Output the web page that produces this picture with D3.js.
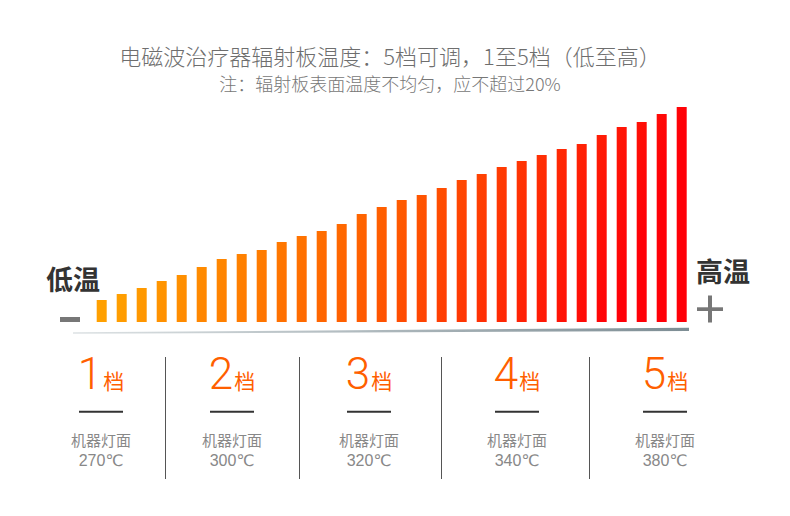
<!DOCTYPE html>
<html>
<head>
<meta charset="utf-8">
<script src="https://cdn.jsdelivr.net/npm/d3@7"></script>
<style>
  body { margin: 0; background: #fff; }
  svg { display: block; }
</style>
</head>
<body>
<svg id="chart" width="790" height="516"></svg>
<script>
// bar heights, low -> high temperature (30 bars)
const barValues = [22, 28, 34, 41, 47, 55, 63, 68, 72, 80, 86, 91, 98, 108, 115,
                   122, 127, 134, 142, 148, 155, 161, 167, 173, 178, 187, 195, 200, 208, 215];
const levels = ["1", "2", "3", "4", "5"];
const levelUnit = "档";
const levelCaption = "机器灯面";
const levelTemps = ["270℃", "300℃", "320℃", "340℃", "380℃"];
const titleText = "电磁波治疗器辐射板温度：5档可调，1至5档（低至高）";
const noteText = "注：辐射板表面温度不均匀，应不超过20%";

const CJK = "'Noto Sans CJK SC', 'Noto Sans', sans-serif";
const svg = d3.select("#chart");

// gradients
const defs = svg.append("defs");
const barGrad = defs.append("linearGradient")
    .attr("id", "barGrad")
    .attr("gradientUnits", "userSpaceOnUse")
    .attr("x1", 150).attr("y1", 200)
    .attr("x2", 600).attr("y2", 360);
barGrad.append("stop").attr("offset", 0).attr("stop-color", "#ffa000");
barGrad.append("stop").attr("offset", 0.5).attr("stop-color", "#ff5a00");
barGrad.append("stop").attr("offset", 1).attr("stop-color", "#ff0008");

const baseGrad = defs.append("linearGradient")
    .attr("id", "baseGrad")
    .attr("x1", 0).attr("x2", 1).attr("y1", 0).attr("y2", 0);
baseGrad.append("stop").attr("offset", 0).attr("stop-color", "#dde2e4");
baseGrad.append("stop").attr("offset", 1).attr("stop-color", "#7d8d94");

// titles
svg.append("text")
    .attr("x", 390).attr("y", 65)
    .attr("text-anchor", "middle")
    .attr("font-family", CJK)
    .attr("font-size", 22)
    .attr("font-weight", 300)
    .attr("fill", "#6e6e6e")
    .text(titleText);

svg.append("text")
    .attr("x", 390).attr("y", 90.5)
    .attr("text-anchor", "middle")
    .attr("font-family", CJK)
    .attr("font-size", 18)
    .attr("font-weight", 300)
    .attr("fill", "#777")
    .text(noteText);

// bars
const x = d3.scaleBand()
    .domain(d3.range(barValues.length))
    .range([91.7, 691.7])
    .paddingInner(0.5)
    .paddingOuter(0.25);

const y = d3.scaleLinear()
    .domain([0, 215])
    .range([322, 107]);

svg.append("g")
    .selectAll("rect")
    .data(barValues)
    .join("rect")
    .attr("x", (d, i) => x(i))
    .attr("y", d => y(d))
    .attr("width", x.bandwidth())
    .attr("height", d => y(0) - y(d))
    .attr("fill", "url(#barGrad)");

// base line (wedge, thin on the left)
svg.append("path")
    .attr("d", "M73,332.3 L689,327.7 L689,331 L73,333.8 Z")
    .attr("fill", "url(#baseGrad)");

// low / high labels
svg.append("text")
    .attr("x", 46).attr("y", 290)
    .attr("font-family", CJK)
    .attr("font-size", 27)
    .attr("font-weight", 700)
    .attr("fill", "#333")
    .text("低温");

svg.append("text")
    .attr("x", 696).attr("y", 282)
    .attr("font-family", CJK)
    .attr("font-size", 27)
    .attr("font-weight", 700)
    .attr("fill", "#333")
    .text("高温");

// minus / plus signs
svg.append("rect").attr("x", 60).attr("y", 317).attr("width", 20).attr("height", 5).attr("fill", "#777");
svg.append("rect").attr("x", 697).attr("y", 307.3).attr("width", 26).attr("height", 3.7).attr("fill", "#777");
svg.append("rect").attr("x", 708).attr("y", 295.5).attr("width", 4).attr("height", 27).attr("fill", "#777");

// level columns
const lx = d3.scaleLinear()
    .domain([0, 1, 2, 3, 4])
    .range([101, 232, 369, 517, 665]);

// dividers between levels
svg.append("g")
    .selectAll("line")
    .data(d3.range(levels.length - 1))
    .join("line")
    .attr("x1", i => Math.round(lx(i + 0.5)) - 1.5)
    .attr("x2", i => Math.round(lx(i + 0.5)) - 1.5)
    .attr("y1", 357)
    .attr("y2", 479)
    .attr("stroke", "#555")
    .attr("stroke-width", 1);

const col = svg.append("g")
    .selectAll("g")
    .data(levels)
    .join("g")
    .attr("transform", (d, i) => `translate(${lx(i)},0)`);

const head = col.append("text")
    .attr("y", 389)
    .attr("text-anchor", "middle")
    .attr("fill", "#ff5f00");
head.append("tspan")
    .attr("font-family", "Roboto, 'Liberation Sans', sans-serif")
    .attr("font-weight", 300)
    .attr("font-size", 44)
    .text(d => d);
head.append("tspan")
    .attr("font-family", CJK)
    .attr("font-size", 21)
    .attr("dx", 1)
    .text(levelUnit);

col.append("line")
    .attr("x1", -22).attr("x2", 22)
    .attr("y1", 411.7).attr("y2", 411.7)
    .attr("stroke", "#333")
    .attr("stroke-width", 2);

col.append("text")
    .attr("y", 446)
    .attr("text-anchor", "middle")
    .attr("font-family", CJK)
    .attr("font-size", 15)
    .attr("fill", "#888")
    .text(levelCaption);

col.append("text")
    .attr("y", 465.5)
    .attr("text-anchor", "middle")
    .attr("font-family", "'Liberation Sans', 'DejaVu Sans', sans-serif")
    .attr("font-size", 16)
    .attr("fill", "#888")
    .text((d, i) => levelTemps[i]);
</script>
</body>
</html>
